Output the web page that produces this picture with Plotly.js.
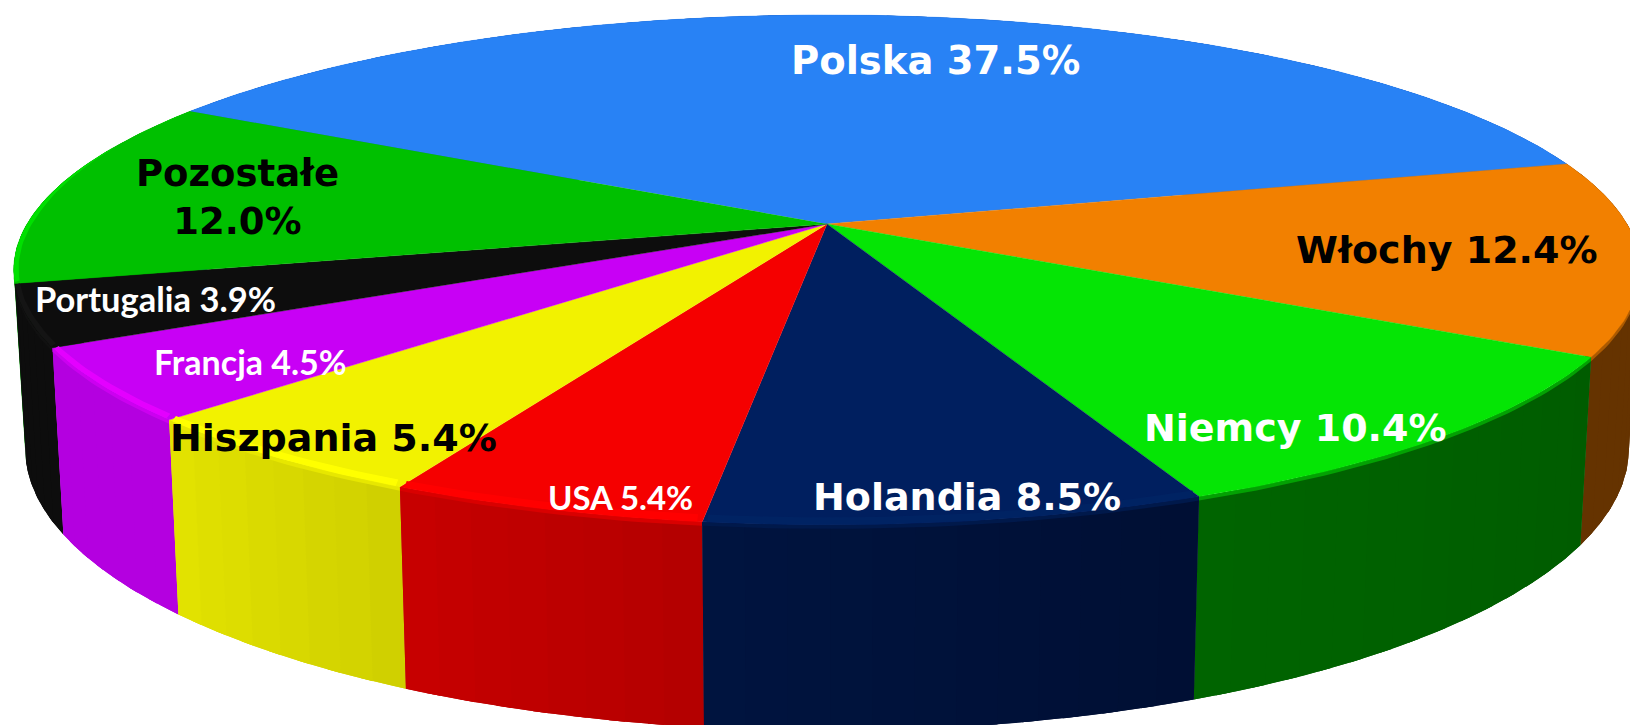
<!DOCTYPE html>
<html>
<head>
<meta charset="utf-8">
<script src="https://cdn.plot.ly/plotly-3.0.1.min.js"></script>
<style>html,body{margin:0;padding:0;background:#fff;overflow:hidden}#chart{width:1630px;height:725px}</style>
</head>
<body>
<div id="chart"></div>
<script>
// ---- data ----
const categories = ["Polska","Włochy","Niemcy","Holandia","USA","Hiszpania","Francja","Portugalia","Pozostałe"];
const shares = [37.5,12.4,10.4,8.5,5.4,5.4,4.5,3.9,12.0];

// ---- styles ----
const topColors  = ["#2882f5","#f28000","#05e505","#001f5f","#f50000","#f2f200","#c800f5","#0d0d0d","#00c000"];
const lipColors  = ["#2882f5","#f28000","#05e505","#002363","#ff0000","#ffff00","#e400ff","#141414","#00e000"];
const wallStart  = ["#1a5fc0","#653300","#005c00","#000f33","#b30000","#cfcf00","#b400e0","#0d0d0d","#00a000"];
const wallEnd    = ["#1a5fc0","#653300","#006400","#00143f","#c80000","#e3e300","#b400e0","#0d0d0d","#00a000"];
const textColors = ["#fff","#000","#fff","#fff","#fff","#000","#fff","#fff","#000"];
const fontFamilies = ["DejaVu Sans","DejaVu Sans","DejaVu Sans","DejaVu Sans","Lato","DejaVu Sans","Lato","Lato","DejaVu Sans"];
const fontSizes  = [38.5,38,38,38,33,38,34,34.5,37];
const labelX = [935,1447,1295,967,620,333,250,155,237];
const labelY = [60,250,428,497,497,438,361,298,197];
// small perspective correction (degrees) of each slice's leading edge, to sit on the picture's edges
const edgeNudge = [0,0.4,0,0.25,-0.17,-0.36,-0.4,0,0];

// ---- projection of the tilted disc (perspective) ----
const cx = 827, cy = 224, a = 800, b = 246.7, k = 0.18, startAngle = -60.15;
const project = (deg, r) => {
  const t = deg * Math.PI / 180, u = r * Math.sin(t), v = -r * Math.cos(t), d = 1 - k * v;
  return [cx + a * u / d, cy + b * v / d];
};
const bottomOf = ([x, y]) => [cx + 0.986 * (x - cx), 397.5 + 1.108 * (y - cy)];
const hex = c => [1, 3, 5].map(i => parseInt(c.substr(i, 2), 16));
const mix = (c1, c2, f) => { const p = hex(c1), q = hex(c2); return "rgb(" + p.map((n, i) => Math.round(n + (q[i] - n) * f)).join(",") + ")"; };
const arcAngles = (d0, d1) => { const n = Math.max(2, Math.ceil(Math.abs(d1 - d0))), o = []; for (let i = 0; i <= n; i++) o.push(d0 + (d1 - d0) * i / n); return o; };
const arc = (d0, d1, r) => arcAngles(d0, d1).map(d => project(d, r));
const poly = (pts, color, w) => ({ x: pts.map(p => p[0]), y: pts.map(p => p[1]), type: "scatter", mode: "lines", fill: "toself", fillcolor: color, line: { color: color, width: w }, hoverinfo: "skip", showlegend: false });

const total = shares.reduce((s, v) => s + v, 0);
const starts = []; let acc = startAngle;
shares.forEach((v, i) => { starts.push(acc + edgeNudge[i]); acc += v / total * 360; });
const bounds = shares.map((v, i) => [starts[i], i + 1 < starts.length ? starts[i + 1] : starts[0] + 360]);

// side wall: a solid base per slice plus overlapping shade strips, farthest first
const walls = [];
shares.forEach((v, i) => {
  const [d0, d1] = bounds[i], N = Math.max(2, Math.round((d1 - d0) / 2.5));
  const depth = -Math.cos((d0 + d1) / 2 * Math.PI / 180);
  const group = [];
  const full = arc(d0, d1, 1);
  group.push(poly(full.concat(full.map(bottomOf).reverse()), mix(wallStart[i], wallEnd[i], 0.5), 0));
  for (let s = 0; s < N; s++) {
    const da = d0 + (d1 - d0) * s / N, db = Math.min(d1, d0 + (d1 - d0) * (s + 1) / N + 1);
    const topArc = arc(da, db, 1);
    group.push(poly(topArc.concat(topArc.map(bottomOf).reverse()), mix(wallStart[i], wallEnd[i], (s + 0.5) / N), 0));
  }
  // soft shoulder where the top rolls into the wall
  group.push(poly(full.concat(full.map(p => [p[0], p[1] + 4]).reverse()), mix(lipColors[i], wallStart[i], 0.5), 0));
  walls.push({ depth, group });
});
walls.sort((p, q) => p.depth - q.depth);

const traces = [];
walls.forEach(w => traces.push(...w.group));
// top faces
shares.forEach((v, i) => {
  const [d0, d1] = bounds[i];
  traces.push(poly([[cx, cy]].concat(arc(d0, d1, 1)), topColors[i], 0.4));
});
// lighter rim on the near edge of each slice, fading out towards the back
shares.forEach((v, i) => {
  if (lipColors[i] === topColors[i]) return;
  const [d0, d1] = bounds[i];
  const angles = arcAngles(d0 + 0.3, d1 - 0.3);
  const outer = angles.map(d => project(d, 1));
  const inner = angles.map((d, j) => {
    const near = Math.max(0, Math.min(1, (-Math.cos(d * Math.PI / 180) + 0.35) / 0.3));
    const p = outer[j];
    return [cx + (p[0] - cx) * (1 - 0.006 * near), cy + (p[1] - cy) * (1 - 0.025 * near)];
  }).reverse();
  traces.push(poly(outer.concat(inner), lipColors[i], 0));
});

const annotations = categories.map((c, i) => ({
  x: labelX[i], y: labelY[i], xref: "x", yref: "y", showarrow: false, xanchor: "center", yanchor: "middle",
  text: "<b>" + c + (c === "Pozostałe" ? "<br>" : " ") + shares[i].toFixed(1) + "%</b>",
  font: { family: fontFamilies[i], size: fontSizes[i], color: textColors[i] }
}));

Plotly.newPlot("chart", traces, {
  width: 1630, height: 725, margin: { l: 0, r: 0, t: 0, b: 0 },
  paper_bgcolor: "#fff", plot_bgcolor: "#fff", showlegend: false,
  xaxis: { range: [0, 1630], visible: false, fixedrange: true },
  yaxis: { range: [725, 0], visible: false, fixedrange: true },
  annotations
}, { displayModeBar: false, staticPlot: true });
</script>
</body>
</html>
